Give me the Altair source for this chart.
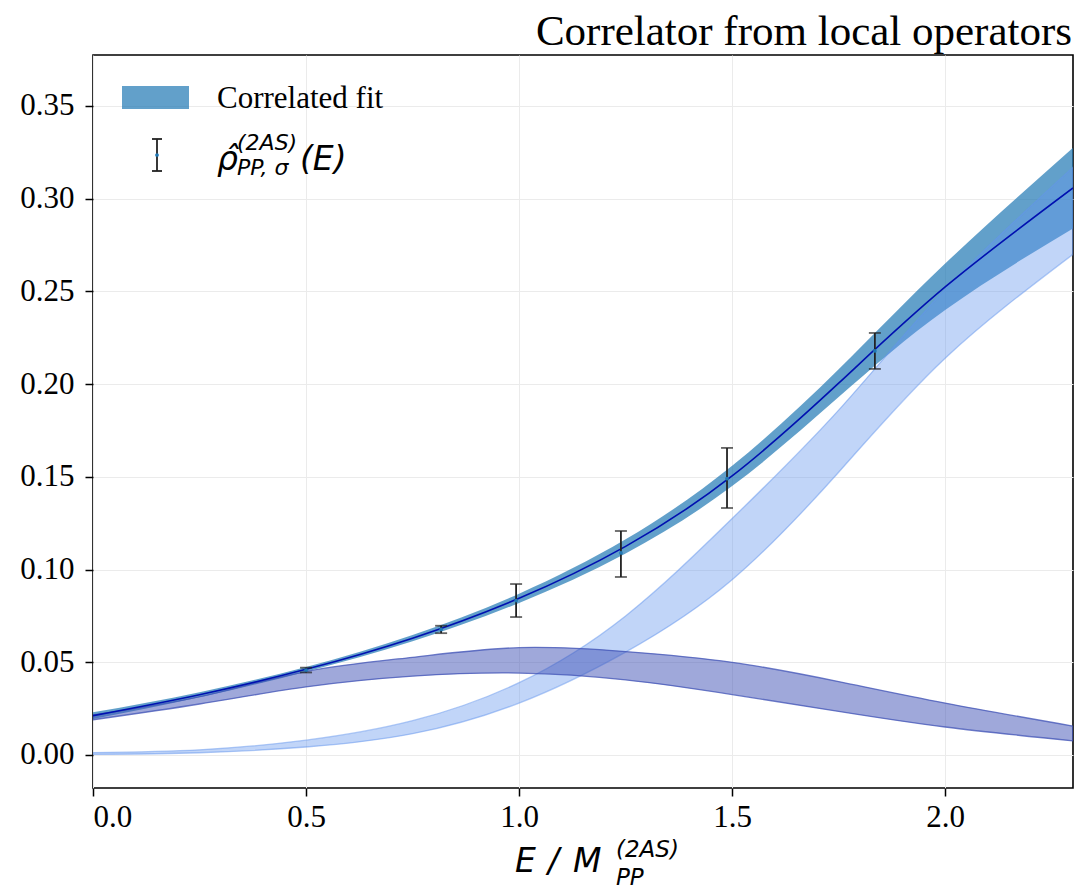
import altair as alt
import pandas as pd

# ---- data ----
x_grid = [0.0, 0.25, 0.5, 0.75, 1.0, 1.25, 1.5, 1.75, 2.0, 2.3]
fit_mid = [0.0212, 0.0325, 0.0462, 0.0630, 0.0845, 0.1125, 0.1505, 0.2005, 0.2524, 0.3058]
fit_lo = [0.0194, 0.0311, 0.0449, 0.0613, 0.0820, 0.1087, 0.1450, 0.1930, 0.2400, 0.2840]
fit_hi = [0.0230, 0.0339, 0.0475, 0.0647, 0.0870, 0.1163, 0.1560, 0.2080, 0.2650, 0.3275]
light_lo = [0.0003, 0.0012, 0.0043, 0.0115, 0.0280, 0.0555, 0.0945, 0.1525, 0.2140, 0.2700]
light_hi = [0.0013, 0.0028, 0.0080, 0.0185, 0.0390, 0.0750, 0.1275, 0.1860, 0.2510, 0.3170]
purple_lo = [0.0190, 0.0275, 0.0367, 0.0425, 0.0442, 0.0405, 0.0326, 0.0235, 0.0151, 0.0076]
purple_hi = [0.0216, 0.0315, 0.0450, 0.0527, 0.0579, 0.0558, 0.0500, 0.0396, 0.0280, 0.0156]

pt_x = [0.50, 0.817, 0.993, 1.239, 1.488, 1.835]
pt_y = [0.0458, 0.0677, 0.0833, 0.1090, 0.1490, 0.2179]
pt_lo = [0.0445, 0.0657, 0.0744, 0.0960, 0.1332, 0.2082]
pt_hi = [0.0471, 0.0697, 0.0922, 0.1208, 0.1656, 0.2276]

x_ticks = [0.0, 0.5, 1.0, 1.5, 2.0]
y_ticks = [0.0, 0.05, 0.10, 0.15, 0.20, 0.25, 0.30, 0.35]

title_text = "Correlator from local operators"
legend_fit = "Correlated fit"

bands = pd.DataFrame({
    "x": x_grid, "fit_mid": fit_mid, "fit_lo": fit_lo, "fit_hi": fit_hi,
    "light_lo": light_lo, "light_hi": light_hi,
    "purple_lo": purple_lo, "purple_hi": purple_hi,
})
pts = pd.DataFrame({"x": pt_x, "y": pt_y, "lo": pt_lo, "hi": pt_hi})

W, H = 980, 733
INTERP = "natural"
xscale = alt.Scale(domain=[0, 2.3], nice=False, zero=False)
yscale = alt.Scale(domain=[-0.0178, 0.3775], nice=False, zero=False)
xaxis = alt.Axis(values=x_ticks, format=".1f", title=None, labelPadding=6)
yaxis = alt.Axis(values=y_ticks, format=".2f", title=None, labelPadding=11)

def X(f="x"):
    return alt.X(f + ":Q", scale=xscale, axis=xaxis)

def Y(f):
    return alt.Y(f + ":Q", scale=yscale, axis=yaxis)

base = alt.Chart(bands)
fit_area = base.mark_area(color="#1f77b4", fillOpacity=0.7, interpolate=INTERP, clip=True).encode(
    x=X(), y=Y("fit_lo"), y2="fit_hi:Q")
light_area = base.mark_area(fill="#6495ed", fillOpacity=0.4, stroke="#6495ed", strokeOpacity=0.5,
                            strokeWidth=1.3, interpolate=INTERP, clip=True).encode(
    x=X(), y=Y("light_lo"), y2="light_hi:Q")
purple_area = base.mark_area(fill="#3f51b5", fillOpacity=0.5, stroke="#3f51b5", strokeOpacity=0.75,
                             strokeWidth=1.3, interpolate=INTERP, clip=True).encode(
    x=X(), y=Y("purple_lo"), y2="purple_hi:Q")
fit_line = base.mark_line(color="#0010b0", strokeWidth=1.6, interpolate=INTERP, clip=True).encode(
    x=X(), y=Y("fit_mid"))

pbase = alt.Chart(pts)
err_rule = pbase.mark_rule(color="#222222", strokeWidth=1.8).encode(x=X(), y=Y("lo"), y2="hi:Q")
cap_lo = pbase.mark_tick(orient="horizontal", size=12, thickness=1.8, color="#222222").encode(x=X(), y=Y("lo"))
cap_hi = pbase.mark_tick(orient="horizontal", size=12, thickness=1.8, color="#222222").encode(x=X(), y=Y("hi"))
dots = pbase.mark_point(filled=True, size=14, color="#1f77b4", opacity=1).encode(x=X(), y=Y("y"))

one = pd.DataFrame({"a": [0]})

def txt(t, x, y, size, font="Liberation Serif", italic=False, align="left"):
    return alt.Chart(one).mark_text(text=t, font=font, fontSize=size, align=align, baseline="alphabetic",
                                    fontStyle="italic" if italic else "normal", color="black").encode(
        x=alt.value(x), y=alt.value(y))

title = txt(title_text, 979, -10, 43, align="right")

# legend
leg_patch = alt.Chart(one).mark_rect(color="#1f77b4", opacity=0.7).encode(
    x=alt.value(29), x2=alt.value(96), y=alt.value(31), y2=alt.value(54))
leg_fit = txt(legend_fit, 124, 53, 31)
leg_rule = alt.Chart(one).mark_rule(color="#222222", strokeWidth=1.8).encode(
    x=alt.value(64), y=alt.value(84), y2=alt.value(116))
leg_cap1 = alt.Chart(one).mark_rule(color="#222222", strokeWidth=1.8).encode(
    x=alt.value(59), x2=alt.value(69), y=alt.value(84))
leg_cap2 = alt.Chart(one).mark_rule(color="#222222", strokeWidth=1.8).encode(
    x=alt.value(59), x2=alt.value(69), y=alt.value(116))
leg_dot = alt.Chart(one).mark_point(filled=True, size=14, color="#1f77b4", opacity=1).encode(
    x=alt.value(64), y=alt.value(100))
MF = "DejaVu Sans"
leg_rho = txt("ρ\u0302", 124, 115, 33, font=MF, italic=True)
leg_sup = txt("(2AS)", 144, 95, 22, font=MF, italic=True)
leg_sub = txt("PP, σ", 144, 120, 22, font=MF, italic=True)
leg_E = txt("(E)", 207, 115, 33, font=MF, italic=True)

# x-axis title
xl_E = txt("E", 422, 817, 33, font=MF, italic=True)
xl_sl = txt("/", 455, 817, 33, font=MF, italic=True)
xl_M = txt("M", 480, 817, 33, font=MF, italic=True)
xl_sup = txt("(2AS)", 523, 802, 23, font=MF, italic=True)
xl_sub = txt("PP", 523, 830, 23, font=MF, italic=True)

chart = alt.layer(
    fit_area, light_area, purple_area, fit_line,
    err_rule, cap_lo, cap_hi, dots,
    title, leg_patch, leg_fit, leg_rule, leg_cap1, leg_cap2, leg_dot,
    leg_rho, leg_sup, leg_sub, leg_E,
    xl_E, xl_sl, xl_M, xl_sup, xl_sub,
).properties(
    width=W, height=H,
    background="white",
    autosize=alt.AutoSizeParams(type="none"),
    padding={"left": 93, "top": 55, "right": 4, "bottom": 102},
).configure_view(
    stroke="black", strokeWidth=1.6
).configure_axis(
    domain=False, grid=True, gridColor="#ebebeb", gridWidth=1,
    ticks=True, tickColor="black", tickSize=8, tickWidth=1.5,
    labelFont="Liberation Serif", labelFontSize=31, labelColor="black",
)

chart.save("out.html", embed_options={"renderer": "svg", "actions": False})
